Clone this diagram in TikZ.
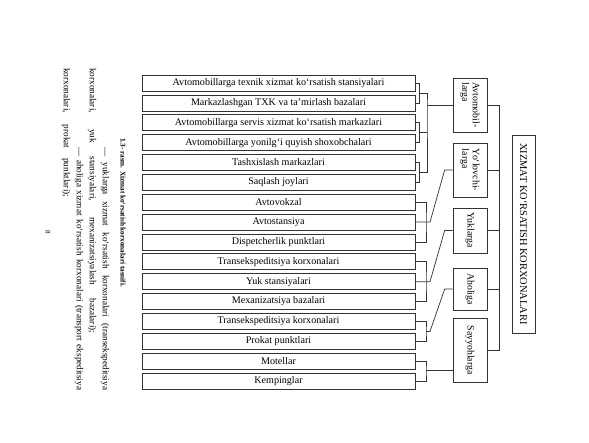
\documentclass[tikz,border=0pt]{standalone}
\usepackage{fontspec}
\setmainfont{Liberation Serif}
\usetikzlibrary{calc}
\begin{document}
\begin{tikzpicture}[x=1pt,y=-1pt,
  ln/.style={draw=black!80, line width=0.7pt},
  rowbox/.style={ln, minimum width=273pt, minimum height=16pt, inner sep=0pt, font=\fontsize{10.1}{11}\selectfont},
  catbox/.style={ln, rotate=-90, minimum height=34pt, inner sep=1pt, align=left, font=\fontsize{9.8}{10.5}\selectfont},
  vtext/.style={rotate=-90, anchor=west, inner sep=0pt, font=\fontsize{9.2}{11}\selectfont},
  conn/.style={black!80, line width=0.7pt}]
\useasboundingbox (0,0) rectangle (589,442);
\fill[white] (0,0) rectangle (589,442);
% rows
\foreach \n/\t [count=\i from 0] in {
 r1/{Avtomobillarga texnik xizmat ko‘rsatish stansiyalari},
 r2/{Markazlashgan TXK va ta’mirlash bazalari},
 r3/{Avtomobillarga servis xizmat ko‘rsatish markazlari},
 r4/{Avtomobillarga yonilg‘i quyish shoxobchalari},
 r5/{Tashxislash markazlari},
 r6/{Saqlash joylari},
 r7/{Avtovokzal},
 r8/{Avtostansiya},
 r9/{Dispetcherlik punktlari},
 r10/{Transekspeditsiya korxonalari},
 r11/{Yuk stansiyalari},
 r12/{Mexanizatsiya bazalari},
 r13/{Transekspeditsiya korxonalari},
 r14/{Prokat punktlari},
 r15/{Motellar},
 r16/{Kempinglar}}
 \node[rowbox] (\n) at (278.5, 83+19.87*\i) {\t};
% category boxes
\node[catbox, minimum width=54pt] (c1) at (470,105) {Avtomobil-\\larga};
\node[catbox, minimum width=54pt] (c2) at (470,170) {Yo‘lovchi-\\larga};
\node[catbox, minimum width=45pt] (c3) at (470,230.5) {Yuklarga};
\node[catbox, minimum width=42pt] (c4) at (470,289) {Aholiga};
\node[catbox, minimum width=64pt] (c5) at (470,350) {Sayyohlarga};
\node[ln, rotate=-90, minimum width=198pt, minimum height=23pt, inner sep=0pt, font=\fontsize{10.4}{11}\selectfont] (m) at (523.5,234) {XIZMAT KO‘RSATISH KORXONALARI};
% group 1: three sub-brackets joined
\coordinate (s) at (419,0);
\coordinate (b1) at (427,105);
\draw[conn] (r1.east) -| (r1.east -| s) |- (r2.east);
\draw[conn] (r3.east) -| (r3.east -| s) |- (r4.east);
\draw[conn] (r5.east) -| (r5.east -| s) |- (r6.east);
\coordinate (m1) at ($(r1.east -| s)!0.5!(r2.east -| s)$);
\coordinate (m2) at ($(r3.east -| s)!0.5!(r4.east -| s)$);
\coordinate (m3) at ($(r5.east -| s)!0.5!(r6.east -| s)$);
\draw[conn] (m1) -| (b1) |- (m3);
\draw[conn] (m2) -- (m2 -| b1);
\draw[conn] (b1) -- (c1.south);
% other groups
\coordinate (b2) at (426,222.09);
\coordinate (b3) at (426,281.7);
\coordinate (b4) at (426,331.4);
\coordinate (b5) at (426,370);
\draw[conn] (r7.east) -| (b2) |- (r9.east);
\draw[conn] (r8.east) -- (b2) -- ++(4,0) -- ($(c2.south)+(-8,0)$) -- (c2.south);
\draw[conn] (r10.east) -| (b3) |- (r12.east);
\draw[conn] (r11.east) -- (b3) -- ++(4,0) -- ($(c3.south)+(-8,0)$) -- (c3.south);
\draw[conn] (r13.east) -| (b4) |- (r14.east);
\draw[conn] (b4) -- ++(4,0) -- ($(c4.south)+(-8,0)$) -- (c4.south);
\draw[conn] (r15.east) -| (b5) |- (r16.east);
\draw[conn] (b5) -- (b5 -| c5.south);
% right collector
\coordinate (k) at (499,0);
\draw[conn] (c1.north) -- (c1.north -| k) -- (c5.north -| k) -- (c5.north);
\foreach \c in {c2,c3,c4} \draw[conn] (\c.north) -- (\c.north -| k);
% text on the left
\node[vtext, font=\bfseries\fontsize{7.2}{8}\selectfont] (cap) at (123,138) {1.3- rasm. Xizmat ko‘rsatish korxonalari tasnifi.};
\node[vtext] (p1) at (105,147) {\hbox to 243pt{— yuklarga xizmat ko‘rsatish korxonalari (transekspeditsiya}};
\node[vtext] (p2) at (92,68) {\hbox to 265pt{korxonalari, yuk stansiyalari, mexanizatsiyalash bazalari);}};
\node[vtext] (p3) at (79,147) {\hbox to 243pt{— aholiga xizmat ko‘rsatish korxonalari (transport ekspeditsiya}};
\node[vtext] (p4) at (66,68) {\hbox to 129pt{korxonalari, prokat punktlari);}};
\node[vtext, font=\fontsize{7}{8}\selectfont] (pg) at (48,230) {8};
\end{tikzpicture}
\end{document}
